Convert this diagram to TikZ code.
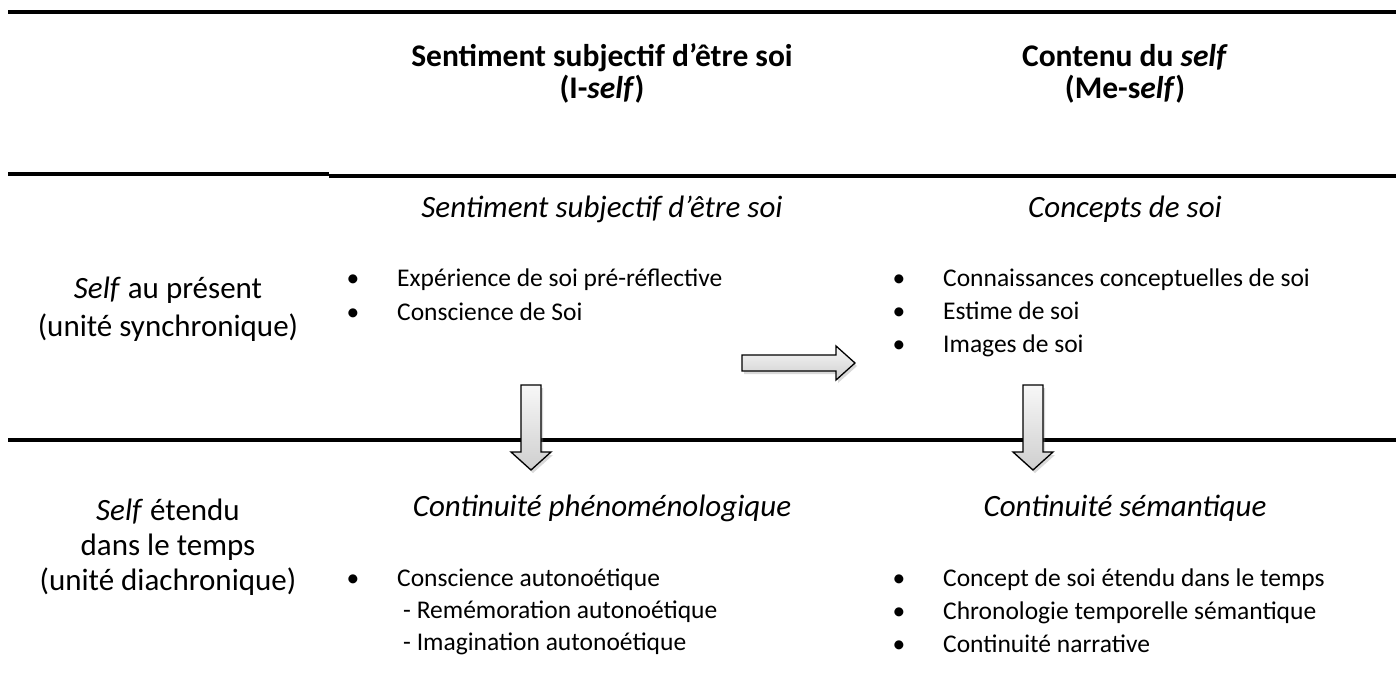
\documentclass[tikz,border=0pt]{standalone}
\usepackage{fontspec}
\setmainfont{Carlito}
\usetikzlibrary{shadows}

\begin{document}
\begin{tikzpicture}[
    x=1pt, y=-1pt,
    every node/.style={inner sep=0pt, anchor=base},
    colhead/.style={font=\fontsize{31.5}{38}\selectfont\bfseries},
    subhead/.style={font=\fontsize{31}{37}\selectfont\itshape},
    rowlabel/.style={font=\fontsize{31}{37}\selectfont},
    item/.style={anchor=base west, font=\fontsize{25.5}{31}\selectfont},
    dot/.style={font=\fontsize{25.5}{31}\selectfont},
    rule/.style={line width=4pt},
    blockarrow/.style={draw=black, line width=1.3pt, top color=gray!6, bottom color=gray!38,
        drop shadow={opacity=0.3, shadow xshift=2pt, shadow yshift=-3pt}}
]
\useasboundingbox (0,0) rectangle (1396,680);

% Rules
\draw[rule] (8,12) -- (1396,12);
\draw[rule] (8,174) -- (329,174);
\draw[rule] (329,175.5) -- (1396,175.5);
\draw[rule] (8,440) -- (1396,440);

% Column headings
\node[colhead] (iself) at (602,66) {Sentiment subjectif d’être soi};
\node[colhead] (iselfb) at (602,98) {(I-\textit{self})};
\node[colhead] (meself) at (1125,66) {Contenu du \textit{self}};
\node[colhead] (meselfb) at (1125,98) {(Me-s\textit{elf})};

% Row labels
\node[rowlabel] (present) at (168,298) {\textit{Self} au présent};
\node[rowlabel] (synchro) at (168,336) {(unité synchronique)};
\node[rowlabel] (etendu) at (168,520) {\textit{Self} étendu};
\node[rowlabel] (temps) at (168,555) {dans le temps};
\node[rowlabel] (diachro) at (168,590) {(unité diachronique)};

% Present self
\node[subhead] (sentiment) at (602,217) {Sentiment subjectif d’être soi};
\node[subhead] (concepts) at (1125,217) {Concepts de soi};

\node[dot] at (353,286) {•};
\node[item] (exp) at (397,286) {Expérience de soi pré-réflective};
\node[dot] at (353,320) {•};
\node[item] (consc) at (397,320) {Conscience de Soi};

\node[dot] at (899,286) {•};
\node[item] (connais) at (943,286) {Connaissances conceptuelles de soi};
\node[dot] at (899,319) {•};
\node[item] (estime) at (943,319) {Estime de soi};
\node[dot] at (899,352) {•};
\node[item] (images) at (943,352) {Images de soi};

% Extended self
\node[subhead] (phenom) at (602,516) {Continuité phénoménologique};
\node[subhead] (semant) at (1125,516) {Continuité sémantique};

\node[dot] at (353,586) {•};
\node[item] (autono) at (397,586) {Conscience autonoétique};
\node[item] (rememo) at (403,618) {- Remémoration autonoétique};
\node[item] (imagin) at (403,650) {- Imagination autonoétique};

\node[dot] at (899,586) {•};
\node[item] (etendusoi) at (943,586) {Concept de soi étendu dans le temps};
\node[dot] at (899,619) {•};
\node[item] (chrono) at (943,619) {Chronologie temporelle sémantique};
\node[dot] at (899,652) {•};
\node[item] (narrat) at (943,652) {Continuité narrative};

% Block arrows
\draw[blockarrow] (742,355) -- (836,355) -- (836,346) -- (855,363) -- (836,380)
    -- (836,371) -- (742,371) -- cycle;
\foreach \cx in {531,1033} {
  \draw[blockarrow] (\cx-10,385) -- (\cx+10,385) -- (\cx+10,452) -- (\cx+20,452)
      -- (\cx,470) -- (\cx-20,452) -- (\cx-10,452) -- cycle;
}

\end{tikzpicture}
\end{document}
